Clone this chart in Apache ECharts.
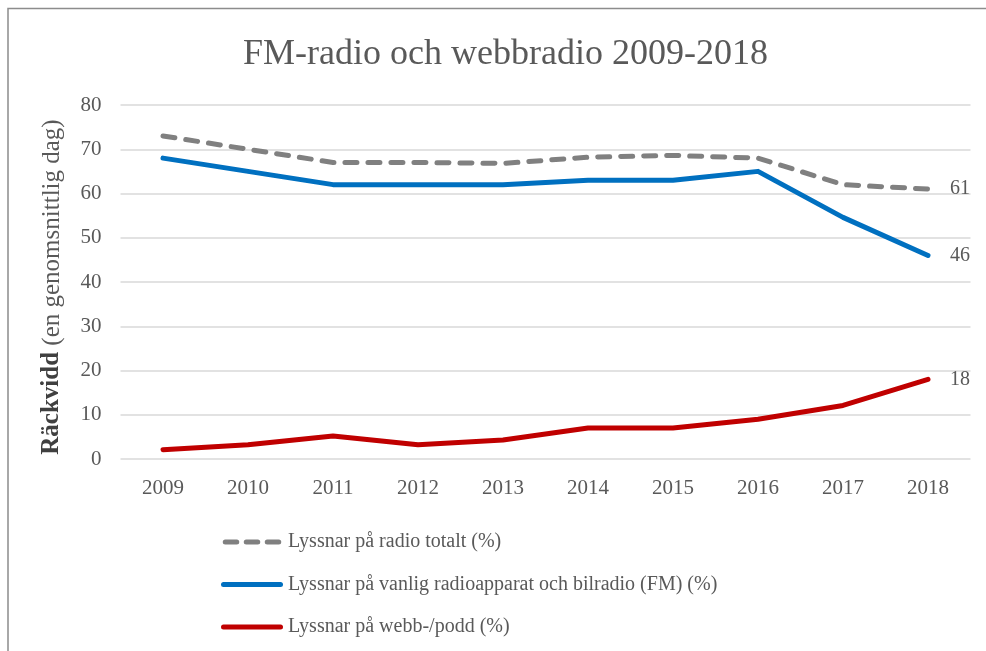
<!DOCTYPE html>
<html>
<head>
<meta charset="utf-8">
<script src="https://cdn.jsdelivr.net/npm/echarts@6/dist/echarts.min.js"></script>
<style>
html,body{margin:0;padding:0;background:#fff;}
#c{width:986px;height:651px;}
</style>
</head>
<body>
<div id="c"></div>
<script>
var years = ['2009','2010','2011','2012','2013','2014','2015','2016','2017','2018'];
var totalRadio = [73, 70, 67, 67, 66.8, 68.2, 68.6, 68, 62, 61];
var fmRadio = [68, 65, 62, 62, 62, 63, 63, 65, 54.6, 46];
var webPodd = [2.1, 3.2, 5.2, 3.2, 4.3, 7, 7, 9, 12.1, 18];
var seriesNames = ['Lyssnar på radio totalt (%)', 'Lyssnar på vanlig radioapparat och bilradio (FM) (%)', 'Lyssnar på webb-/podd (%)'];

var FONT = '"Liberation Serif", "DejaVu Serif", serif';
var TXT = '#595959';

var endLbl = {
  show: true, distance: 22,
  formatter: function(p){ return Math.round(p.value); },
  color: TXT, fontFamily: FONT, fontSize: 20
};

var dashIcon = 'path://M2.5,0 L14,0 A2.5,2.5 0 0 1 14,5 L2.5,5 A2.5,2.5 0 0 1 2.5,0 Z M23.5,0 L35,0 A2.5,2.5 0 0 1 35,5 L23.5,5 A2.5,2.5 0 0 1 23.5,0 Z M44.5,0 L56,0 A2.5,2.5 0 0 1 56,5 L44.5,5 A2.5,2.5 0 0 1 44.5,0 Z';
var solidIcon = 'path://M2.5,0 L59.5,0 A2.5,2.5 0 0 1 59.5,5 L2.5,5 A2.5,2.5 0 0 1 2.5,0 Z';

var chart = echarts.init(document.getElementById('c'), null, {renderer: 'canvas'});
chart.setOption({
  backgroundColor: '#fff',
  animation: false,
  graphic: [{
    type: 'rect',
    shape: {x: 8, y: 8.5, width: 1000, height: 700},
    style: {fill: 'none', stroke: '#8c8c8c', lineWidth: 1.5},
    silent: true, z: 100
  }],
  title: {
    text: 'FM-radio och webbradio 2009-2018',
    left: 238, top: 32,
    textStyle: {fontFamily: FONT, fontSize: 36, fontWeight: 'normal', color: TXT}
  },
  grid: {left: 120.5, right: 15.5, top: 105, bottom: 192, containLabel: false},
  legend: {
    orient: 'vertical',
    left: 216, top: 527,
    itemWidth: 62, itemHeight: 5, itemGap: 22.5,
    data: [
      {name: seriesNames[0], icon: dashIcon, itemStyle: {color: '#808080'}},
      {name: seriesNames[1], icon: solidIcon, itemStyle: {color: '#0070C0'}},
      {name: seriesNames[2], icon: solidIcon, itemStyle: {color: '#C00000'}}
    ],
    textStyle: {fontFamily: FONT, fontSize: 20, color: TXT}
  },
  xAxis: {
    type: 'category',
    data: years,
    boundaryGap: true,
    axisLine: {show: false},
    axisTick: {show: false},
    axisLabel: {margin: 19, fontFamily: FONT, fontSize: 21, color: TXT}
  },
  yAxis: {
    type: 'value',
    min: 0, max: 80, interval: 10,
    axisLine: {show: false},
    axisTick: {show: false},
    splitLine: {lineStyle: {color: '#d9d9d9', width: 1.5}},
    axisLabel: {margin: 19, fontFamily: FONT, fontSize: 21, color: TXT},
    name: '{b|Räckvidd} {n|(en genomsnittlig dag)}',
    nameLocation: 'middle',
    nameGap: 56,
    nameRotate: 90,
    nameTextStyle: {
      fontFamily: FONT, fontSize: 25, color: TXT, padding: [0, 10, 0, 0],
      rich: {
        b: {fontFamily: FONT, fontSize: 25, fontWeight: 'bold', color: '#404040'},
        n: {fontFamily: FONT, fontSize: 25, color: TXT}
      }
    }
  },
  series: [
    {
      name: seriesNames[0], type: 'line', data: totalRadio,
      symbol: 'none', color: '#808080',
      lineStyle: {color: '#808080', width: 5, type: [12, 11], cap: 'round', join: 'round'},
      endLabel: endLbl,
      z: 3
    },
    {
      name: seriesNames[1], type: 'line', data: fmRadio,
      symbol: 'none', color: '#0070C0',
      lineStyle: {color: '#0070C0', width: 5, cap: 'round', join: 'round'},
      endLabel: endLbl,
      z: 4
    },
    {
      name: seriesNames[2], type: 'line', data: webPodd,
      symbol: 'none', color: '#C00000',
      lineStyle: {color: '#C00000', width: 5, cap: 'round', join: 'round'},
      endLabel: endLbl,
      z: 5
    }
  ]
});
</script>
</body>
</html>
